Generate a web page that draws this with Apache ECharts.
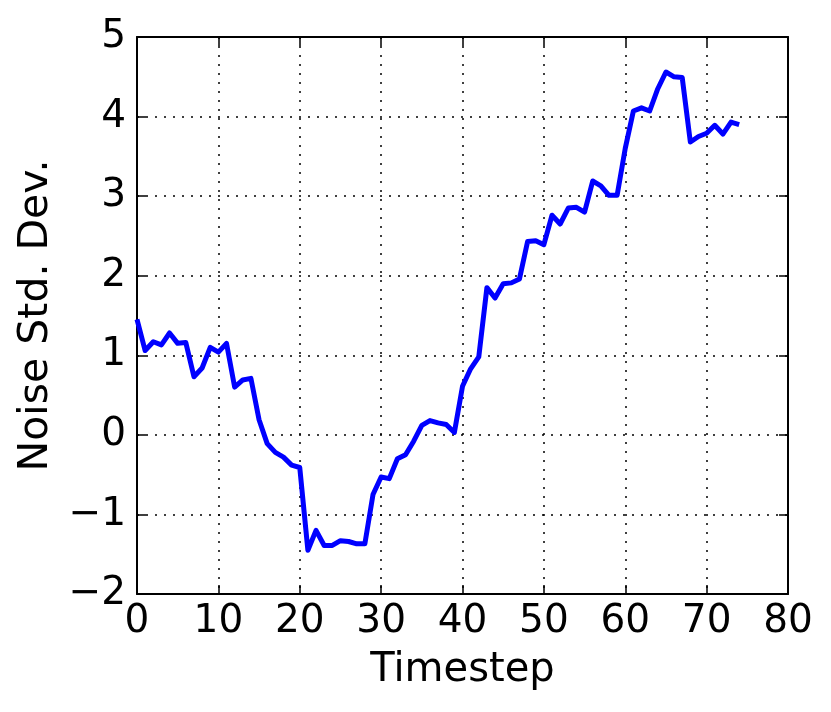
<!DOCTYPE html>
<html>
<head>
<meta charset="utf-8">
<script src="https://cdn.jsdelivr.net/npm/echarts@6/dist/echarts.min.js"></script>
<style>
  html, body { margin: 0; padding: 0; background: #fff; }
  #chart { width: 831px; height: 712px; }
</style>
</head>
<body>
<div id="chart"></div>
<script>
// 每个时间步的噪声标准差
const timesteps = [
  0, 1, 2, 3, 4, 5, 6, 7, 8, 9,
  10, 11, 12, 13, 14, 15, 16, 17, 18, 19,
  20, 21, 22, 23, 24, 25, 26, 27, 28, 29,
  30, 31, 32, 33, 34, 35, 36, 37, 38, 39,
  40, 41, 42, 43, 44, 45, 46, 47, 48, 49,
  50, 51, 52, 53, 54, 55, 56, 57, 58, 59,
  60, 61, 62, 63, 64, 65, 66, 67, 68, 69,
  70, 71, 72, 73, 74
]
const noiseStd = [
  1.45, 1.06, 1.17, 1.13, 1.28, 1.15, 1.16, 0.73, 0.84, 1.10,
  1.04, 1.15, 0.60, 0.69, 0.71, 0.19, -0.11, -0.22, -0.28, -0.38,
  -0.41, -1.45, -1.20, -1.39, -1.39, -1.33, -1.34, -1.37, -1.37, -0.75,
  -0.53, -0.55, -0.30, -0.25, -0.08, 0.12, 0.18, 0.15, 0.13, 0.03,
  0.61, 0.83, 0.98, 1.85, 1.72, 1.90, 1.91, 1.96, 2.43, 2.44,
  2.39, 2.76, 2.65, 2.85, 2.86, 2.80, 3.19, 3.13, 3.01, 3.01,
  3.60, 4.07, 4.11, 4.07, 4.35, 4.56, 4.50, 4.49, 3.68, 3.75,
  3.79, 3.89, 3.78, 3.93, 3.90
]
const xTicks = { min: 0, max: 80, interval: 10 }
const yTicks = { min: -2, max: 5, interval: 1 }

const font = 'DejaVu Sans'
const minus = v => String(v).replace('-', '\u2212')

const spine = { show: true, onZero: false, lineStyle: { color: '#000', width: 2 } }
const tick = { show: true, inside: true, length: 9, lineStyle: { color: '#000', width: 1.5 } }
const dotted = { show: true, lineStyle: { color: '#000', width: 1.5, type: [2, 7] } }

const myChart = echarts.init(document.getElementById('chart'))
const option = {
  animation: false,
  backgroundColor: '#fff',
  grid: { left: 137, right: 43, top: 37, bottom: 118 },
  xAxis: [
    {
      type: 'value',
      ...xTicks,
      position: 'bottom',
      name: 'Timestep',
      nameLocation: 'middle',
      nameGap: 57,
      nameTextStyle: { fontFamily: font, fontSize: 40, color: '#000' },
      axisLine: spine,
      axisTick: tick,
      splitLine: dotted,
      axisLabel: { fontFamily: font, fontSize: 39, color: '#000', margin: 8, formatter: minus }
    },
    {
      type: 'value',
      ...xTicks,
      position: 'top',
      axisLine: spine,
      axisTick: tick,
      splitLine: { show: false },
      axisLabel: { show: false }
    }
  ],
  yAxis: [
    {
      type: 'value',
      ...yTicks,
      position: 'left',
      name: 'Noise Std. Dev.',
      nameLocation: 'middle',
      nameGap: 80,
      nameTextStyle: { fontFamily: font, fontSize: 41, color: '#000' },
      axisLine: spine,
      axisTick: tick,
      splitLine: dotted,
      axisLabel: { fontFamily: font, fontSize: 39, color: '#000', margin: 11, formatter: minus }
    },
    {
      type: 'value',
      ...yTicks,
      position: 'right',
      axisLine: spine,
      axisTick: tick,
      splitLine: { show: false },
      axisLabel: { show: false }
    }
  ],
  series: [
    {
      type: 'line',
      xAxisIndex: 0,
      yAxisIndex: 0,
      data: timesteps.map((t, i) => [t, noiseStd[i]]),
      showSymbol: false,
      lineStyle: { color: '#0000ff', width: 5, join: 'round' },
      z: 5
    }
  ]
}
myChart.setOption(option)
</script>
</body>
</html>
